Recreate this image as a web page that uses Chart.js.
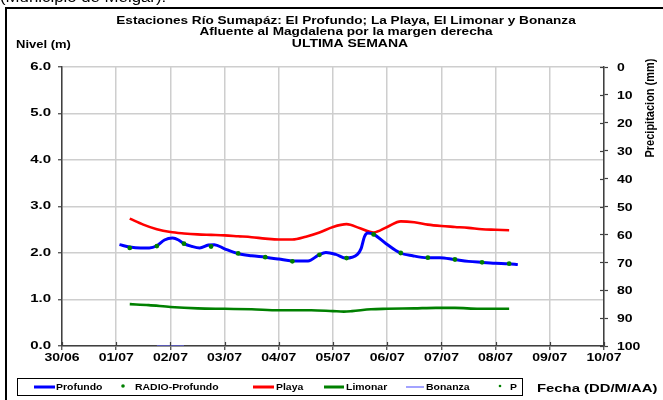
<!DOCTYPE html>
<html>
<head>
<meta charset="utf-8">
<script src="https://cdn.jsdelivr.net/npm/chart.js@4.4.1/dist/chart.umd.min.js"></script>
<style>
html,body{margin:0;padding:0;background:#fff;}
#wrap{position:relative;width:663px;height:400px;overflow:hidden;}
</style>
</head>
<body>
<div id="wrap"><canvas id="c" width="663" height="400"></canvas></div>
<script>
// ---- DATA (x = days since 30/06 00:00) ----
const dayLabels = ["30/06","01/07","02/07","03/07","04/07","05/07","06/07","07/07","08/07","09/07","10/07"];
const nivelTicks = [0,1,2,3,4,5,6];
const precipTicks = [0,10,20,30,40,50,60,70,80,90,100];

const profundoDays = [1.06,1.25,1.45,1.61,1.74,1.89,2.04,2.15,2.25,2.40,2.54,2.70,2.81,3.00,3.24,3.50,3.74,4.00,4.24,4.54,4.74,4.87,5.05,5.24,5.45,5.52,5.58,5.64,5.75,5.98,6.24,6.47,6.74,6.97,7.24,7.50,7.73,8.00,8.24,8.41];
const profundoVals = [2.18,2.13,2.11,2.11,2.15,2.28,2.32,2.28,2.20,2.14,2.11,2.17,2.18,2.09,1.99,1.94,1.91,1.87,1.83,1.83,1.96,2.01,1.97,1.89,1.97,2.10,2.35,2.43,2.40,2.20,2.00,1.94,1.90,1.90,1.86,1.82,1.80,1.78,1.77,1.75];

const radioDays = [1.25,1.75,2.25,2.75,3.25,3.75,4.25,4.75,5.25,5.75,6.25,6.75,7.25,7.75,8.25];
const radioVals = [2.11,2.15,2.20,2.14,1.99,1.91,1.82,1.96,1.89,2.40,2.00,1.90,1.86,1.80,1.77];

const playaDays = [1.25,1.50,1.75,2.00,2.25,2.50,2.75,3.00,3.25,3.50,3.75,4.00,4.25,4.50,4.75,5.00,5.25,5.50,5.75,6.00,6.25,6.50,6.75,7.00,7.25,7.50,7.75,8.00,8.25];
const playaVals = [2.74,2.61,2.51,2.45,2.42,2.40,2.39,2.38,2.36,2.34,2.31,2.29,2.29,2.35,2.44,2.56,2.62,2.53,2.44,2.56,2.68,2.66,2.61,2.58,2.56,2.54,2.51,2.50,2.49];

const limonarDays = [1.25,1.60,2.00,2.50,3.00,3.50,4.00,4.60,5.00,5.20,5.35,5.70,6.00,6.50,6.90,7.25,7.70,8.25];
const limonarVals = [0.90,0.88,0.84,0.81,0.80,0.79,0.77,0.77,0.75,0.74,0.75,0.79,0.80,0.81,0.82,0.82,0.80,0.80];

const bonanzaDays = [1.75,2.25];
const bonanzaVals = [0,0];

const pDays = [];
const pVals = [];

const legendLabels = ["Profundo","RADIO-Profundo","Playa","Limonar","Bonanza","P"];

// ---- helpers ----
const pts = (xs, ys) => xs.map((x,i)=>({x:x,y:ys[i]}));
const FONT = "'Liberation Sans', Arial, sans-serif";
const AX = '#404040';
const GRID = 'rgb(206,206,206)';
const SX = 1.4; // horizontal stretch of the reference's text

function sText(ctx, txt, x, y, align, sx, font){
  ctx.save();
  ctx.font = font;
  ctx.textAlign = align;
  ctx.textBaseline = 'middle';
  ctx.fillStyle = '#000';
  ctx.translate(x, y);
  ctx.scale(sx, 1);
  ctx.fillText(txt, 0, 0);
  ctx.restore();
}

const datasets = [
  {label:legendLabels[1], data:pts(radioDays,radioVals), showLine:false, pointRadius:2.4, pointBackgroundColor:'#008000', pointBorderWidth:0, borderColor:'#008000', backgroundColor:'#008000', yAxisID:'y', order:0, legendType:'dot'},
  {label:legendLabels[0], data:pts(profundoDays,profundoVals), borderColor:'#0000ff', backgroundColor:'#0000ff', borderWidth:3, pointRadius:0, cubicInterpolationMode:'monotone', yAxisID:'y', order:1, legendType:'line'},
  {label:legendLabels[2], data:pts(playaDays,playaVals), borderColor:'#ff0000', backgroundColor:'#ff0000', borderWidth:2.6, pointRadius:0, cubicInterpolationMode:'monotone', yAxisID:'y', order:2, legendType:'line'},
  {label:legendLabels[3], data:pts(limonarDays,limonarVals), borderColor:'#008000', backgroundColor:'#008000', borderWidth:2.6, pointRadius:0, cubicInterpolationMode:'monotone', yAxisID:'y', order:3, legendType:'line'},
  {label:legendLabels[4], data:pts(bonanzaDays,bonanzaVals), borderColor:'#6666ff', backgroundColor:'#6666ff', borderWidth:1.2, pointRadius:0, yAxisID:'y', order:4, legendType:'thin'},
  {label:legendLabels[5], data:pts(pDays,pVals), showLine:false, pointRadius:1.6, pointBackgroundColor:'#008000', borderColor:'#008000', backgroundColor:'#008000', yAxisID:'y2', order:5, legendType:'smalldot'}
];

// legend layout slots: [sampleStart, sampleEnd, textX]
const legendSlots = {
  "Profundo":[34,55,56],
  "RADIO-Profundo":[123,123,135],
  "Playa":[253,274,276],
  "Limonar":[324,344,346],
  "Bonanza":[406,424,426],
  "P":[500,500,510]
};

const decor = {
  id:'decor',
  beforeDraw(chart){
    const ctx = chart.ctx;
    ctx.save();
    ctx.fillStyle = '#fff';
    ctx.fillRect(0,0,chart.width,chart.height);
    // cut-off text above frame
    ctx.fillStyle = '#000';
    ctx.font = "14px " + FONT;
    ctx.textAlign = 'left';
    ctx.textBaseline = 'alphabetic';
    ctx.translate(0, 2);
    ctx.scale(1.2, 1);
    ctx.fillText("(Municipio de Melgar).", 0, 0);
    ctx.restore();
    ctx.save();
    // frame
    ctx.fillStyle = '#fff';
    ctx.fillRect(6,8,700,500);
    ctx.strokeStyle = '#000';
    ctx.lineWidth = 2;
    ctx.strokeRect(6,8,700,500);
    ctx.restore();
    // titles
    const tf = "bold 10px " + FONT;
    sText(ctx, "Estaciones Río Sumapáz: El Profundo; La Playa, El Limonar y Bonanza", 346, 21, 'center', 1.36, tf);
    sText(ctx, "Afluente al Magdalena por la margen derecha", 346, 32.5, 'center', 1.36, tf);
    sText(ctx, "ULTIMA SEMANA", 350, 44, 'center', 1.4, tf);
    sText(ctx, "Nivel (m)", 16, 45, 'left', 1.3, tf);
  },
  afterDraw(chart){
    const ctx = chart.ctx;
    const ca = chart.chartArea;
    const xs = chart.scales.x, ys = chart.scales.y, y2 = chart.scales.y2;
    const lf = "bold 10px " + FONT;
    ctx.save();
    ctx.strokeStyle = AX;
    ctx.lineWidth = 1.2;
    // inner halves of x ticks
    xs.ticks.forEach(t=>{
      const px = Math.round(xs.getPixelForValue(t.value))+0.5;
      ctx.beginPath(); ctx.moveTo(px, ca.bottom); ctx.lineTo(px, ca.bottom-4); ctx.stroke();
    });
    // inner halves of y2 ticks
    y2.ticks.forEach(t=>{
      const py = Math.round(y2.getPixelForValue(t.value))+0.5;
      ctx.beginPath(); ctx.moveTo(ca.right, py); ctx.lineTo(ca.right-4, py); ctx.stroke();
    });
    ctx.restore();
    // tick labels
    xs.ticks.forEach(t=>{
      sText(ctx, dayLabels[t.value], xs.getPixelForValue(t.value), 358.5, 'center', SX, lf);
    });
    ys.ticks.forEach(t=>{
      sText(ctx, t.value.toFixed(1), ca.left-11, ys.getPixelForValue(t.value), 'right', 1.5, lf);
    });
    y2.ticks.forEach(t=>{
      sText(ctx, String(t.value), ca.right+13, y2.getPixelForValue(t.value)+1.5, 'left', SX, lf);
    });
    // right axis title
    ctx.save();
    ctx.fillStyle = '#000';
    ctx.font = "bold 11px " + FONT;
    ctx.translate(650, 108);
    ctx.rotate(-Math.PI/2);
    ctx.scale(1, 1.2);
    ctx.textAlign = 'center';
    ctx.textBaseline = 'middle';
    ctx.fillText("Precipitacion (mm)", 0, 0);
    ctx.restore();

    // legend
    ctx.save();
    ctx.strokeStyle = '#000';
    ctx.lineWidth = 1;
    ctx.strokeRect(17.5, 378.5, 505, 17);
    const ly = 387;
    chart.data.datasets.slice().sort((a,b)=>legendLabels.indexOf(a.label)-legendLabels.indexOf(b.label)).forEach(ds=>{
      const s = legendSlots[ds.label];
      ctx.strokeStyle = ds.borderColor;
      ctx.fillStyle = ds.borderColor;
      if (ds.legendType==='line' || ds.legendType==='thin'){
        ctx.lineWidth = ds.legendType==='thin' ? 1.2 : 3;
        ctx.beginPath(); ctx.moveTo(s[0], ly); ctx.lineTo(s[1], ly); ctx.stroke();
      } else {
        ctx.beginPath(); ctx.arc(s[0], ly-1, ds.legendType==='dot'?1.8:1.3, 0, Math.PI*2); ctx.fill();
      }
      sText(ctx, ds.label, s[2], ly, 'left', 1.1, "bold 9.5px " + FONT);
    });
    ctx.restore();
    sText(ctx, "Fecha (DD/M/AA)", 537, 389, 'left', 1.35, "bold 11px " + FONT);
  }
};

new Chart(document.getElementById('c'), {
  type:'line',
  data:{datasets:datasets},
  options:{
    responsive:false,
    animation:false,
    devicePixelRatio:1,
    layout:{padding:{top:67,left:0,right:0,bottom:0}},
    plugins:{legend:{display:false}, title:{display:false}, tooltip:{enabled:false}},
    scales:{
      x:{
        type:'linear', min:0, max:10,
        afterBuildTicks(s){ s.ticks = dayLabels.map((_,i)=>({value:i})); },
        afterFit(s){ s.height = 54; },
        ticks:{display:false, callback:(v)=>dayLabels[v]},
        grid:{color:GRID, lineWidth:1.5, tickColor:AX, tickLength:4, tickWidth:1.2},
        border:{color:AX, width:1.5}
      },
      y:{
        position:'left', min:0, max:6,
        afterBuildTicks(s){ s.ticks = nivelTicks.map(v=>({value:v})); },
        afterFit(s){ s.width = 62; },
        ticks:{display:false},
        grid:{color:GRID, lineWidth:1.5, tickColor:AX, tickLength:4, tickWidth:1.2},
        border:{color:AX, width:1.5}
      },
      y2:{
        position:'right', min:0, max:100, reverse:true,
        afterBuildTicks(s){ s.ticks = precipTicks.map(v=>({value:v})); },
        afterFit(s){ s.width = 59; },
        ticks:{display:false},
        grid:{drawOnChartArea:false, tickColor:AX, tickLength:4, tickWidth:1.2},
        border:{color:AX, width:1.5}
      }
    }
  },
  plugins:[decor]
});
</script>
</body>
</html>
